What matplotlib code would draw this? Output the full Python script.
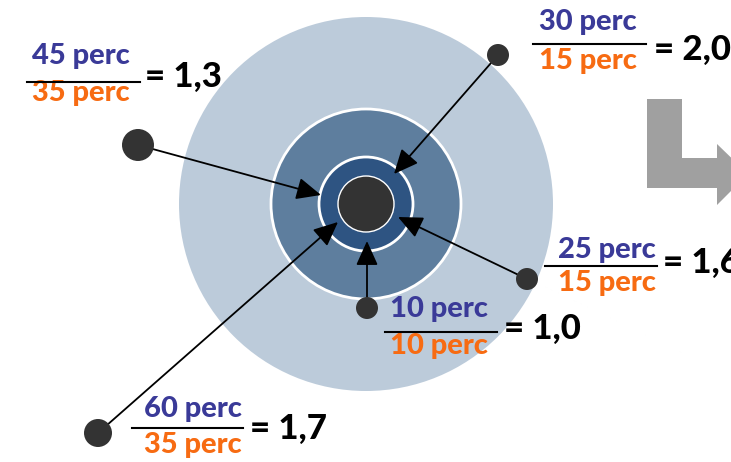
import matplotlib
matplotlib.use("Agg")
import matplotlib.pyplot as plt
from matplotlib.patches import Circle, Polygon

# ---- data ----
numerators = ["45 perc", "30 perc", "25 perc", "10 perc", "60 perc"]
denominators = ["35 perc", "15 perc", "15 perc", "10 perc", "35 perc"]
ratios = ["1,3", "2,0", "1,6", "1,0", "1,7"]

# ---- layout (pixel coordinates, y downward) ----
W, H = 731, 462
fig = plt.figure(figsize=(W / 100, H / 100), dpi=100)
ax = fig.add_axes([0, 0, 1, 1])
ax.set_xlim(0, W)
ax.set_ylim(H, 0)
ax.set_aspect("equal")
ax.axis("off")

cx, cy = 366, 204
ax.add_patch(Circle((cx, cy), 187, facecolor="#bccbda", edgecolor="none", zorder=1))
ax.add_patch(Circle((cx, cy), 95, facecolor="#5e7e9e", edgecolor="white", lw=2, zorder=2))
ax.add_patch(Circle((cx, cy), 47, facecolor="#2e5482", edgecolor="white", lw=2, zorder=3))
ax.add_patch(Circle((cx, cy), 28, facecolor="#333333", edgecolor="white", lw=1, zorder=4))

# gray L-shaped arrow on the right
ax.add_patch(Polygon([(647, 99), (682, 99), (682, 158), (717, 158), (717, 144),
                      (748, 174), (717, 205), (717, 188), (647, 188)],
                     closed=True, facecolor="#a0a0a0", edgecolor="none", zorder=1))

points = [(138, 145, 16), (498, 55, 11), (527, 279, 11), (367, 308, 11), (98, 433, 14)]
tips = [(321, 195), (394, 174), (398, 217), (367, 241), (338, 222)]
for (px, py, r), (tx, ty) in zip(points, tips):
    ax.annotate("", xy=(tx, ty), xytext=(px, py),
                arrowprops=dict(arrowstyle="-|>,head_length=1.0,head_width=0.45",
                                color="black", lw=1.3, shrinkA=0, shrinkB=0,
                                mutation_scale=15),
                zorder=5)
    ax.add_patch(Circle((px, py), r, facecolor="#333333", edgecolor="none", zorder=6))

# label layout: (num center x, num y, den y, line x0, line x1, line y, eq x, eq y)
labels = [
    (81, 56, 93, 27, 140, 82, 145, 77),
    (588, 22, 61, 533, 646, 44, 654, 50),
    (607, 250, 283, 545, 657, 266, 663, 263),
    (439, 309, 346, 385, 497, 332, 504, 329),
    (193, 409, 445, 132, 243, 428, 250, 429),
]
font = "Lato"
for (nx, ny, dy, lx0, lx1, ly, ex, ey), num, den, rat in zip(labels, numerators, denominators, ratios):
    ax.text(nx, ny, num, ha="center", va="center", fontsize=21, fontweight="black",
            color="#3a3a98", family=font, zorder=7)
    ax.text(nx, dy, den, ha="center", va="center", fontsize=21, fontweight="black",
            color="#f76b12", family=font, zorder=7)
    ax.plot([lx0, lx1], [ly, ly], color="black", lw=1.5, zorder=7)
    ax.text(ex, ey, "= " + rat, ha="left", va="center", fontsize=25, fontweight="black",
            color="black", family=font, zorder=7)

fig.savefig("out.png", dpi=100, facecolor="white")
